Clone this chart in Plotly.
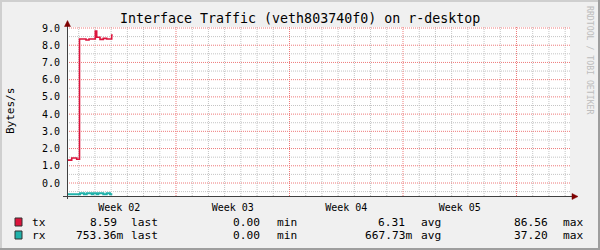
import plotly.graph_objects as go

# ---------------- data ----------------
title_text = "Interface Traffic (veth803740f0) on r-desktop"
y_label = "Bytes/s"
watermark = "RRDTOOL / TOBI OETIKER"

week_labels = ["Week 02", "Week 03", "Week 04", "Week 05"]
week_label_pos = [-3.5, 3.5, 10.5, 17.5]      # days relative to start of Week 03
week_starts = [0, 7, 14, 21]

y_ticks = [0, 1, 2, 3, 4, 5, 6, 7, 8, 9]
y_tick_text = ["0.0", "1.0", "2.0", "3.0", "4.0", "5.0", "6.0", "7.0", "8.0", "9.0"]

tx_day = [-6.7226, -6.4327, -6.1243, -5.9516, -5.5507, -5.3657, -4.9772,
          -4.8908, -4.6873, -4.4838, -4.2741, -3.9657, -3.9040]
tx_val = [1.33, 1.45, 1.38, 8.36, 8.30, 8.36, 8.83,
          8.46, 8.34, 8.40, 8.36, 8.59, 8.59]

rx_day = [-6.7226, -5.9208, -5.6741, -5.5076, -5.1992, -5.1005, -4.8908,
          -4.7922, -4.4838, -4.2741, -4.0706, -3.9287]
rx_val = [-0.656, -0.598, -0.656, -0.598, -0.656, -0.598, -0.656,
          -0.598, -0.656, -0.598, -0.656, -0.656]

series_names = ["tx", "rx"]
series_colors = ["#DC143C", "#20B2AA"]
legend_last = ["8.59", "753.36m"]
legend_min = ["0.00", "0.00"]
legend_avg = ["6.31", "667.73m"]
legend_max = ["86.56", "37.20"]
stat_names = ["last", "min", "avg", "max"]

# ---------------- layout geometry ----------------
W, H = 600, 250
PL, PR, PT, PB = 67, 570, 27, 196
X0, PXD = 176.0, 16.214      # pixel of day 0, pixels per day
Y0, PXU = 183.0, 17.222      # pixel of value 0, pixels per unit

x_range = [(PL - X0) / PXD, (PR - X0) / PXD]
y_range = [(Y0 - PB) / PXU, (Y0 - PT) / PXU]

# grid positions
x_minor = [d for d in range(-6, 25) if d % 7 != 0]
y_minor = [v + 0.5 for v in range(-1, 9)]


def fx(px):
    return (px - PL) / (PR - PL)


def fy(py):
    return (PB - py) / (PB - PT)


MONO = "DejaVu Sans Mono"
RED_GRID = "#EE7A7A"
GRAY_GRID = "#C4C4C4"
DOT = "1px,1px"

fig = go.Figure()
fig.add_trace(go.Scatter(x=tx_day, y=tx_val, mode="lines", hoverinfo="skip",
                         line=dict(color=series_colors[0], width=1.6, shape="hv")))
fig.add_trace(go.Scatter(x=rx_day, y=rx_val, mode="lines", hoverinfo="skip",
                         line=dict(color=series_colors[1], width=2, shape="hv")))
# invisible trace for the label axis
fig.add_trace(go.Scatter(x=[], y=[], xaxis="x2", hoverinfo="skip", showlegend=False))

shapes = []
# grid lines (drawn below the data)
for d in x_minor:
    shapes.append(dict(type="line", xref="x", yref="paper", x0=d, x1=d, y0=0, y1=1,
                       layer="below", line=dict(color=GRAY_GRID, width=1, dash=DOT)))
for v in y_minor:
    shapes.append(dict(type="line", xref="paper", yref="y", x0=0, x1=1, y0=v, y1=v,
                       layer="below", line=dict(color=GRAY_GRID, width=1, dash=DOT)))
for d in week_starts:
    shapes.append(dict(type="line", xref="x", yref="paper", x0=d, x1=d, y0=0, y1=1,
                       layer="below", line=dict(color=RED_GRID, width=1, dash=DOT)))
for v in y_ticks:
    shapes.append(dict(type="line", xref="paper", yref="y", x0=0, x1=1, y0=v, y1=v,
                       layer="below", line=dict(color=RED_GRID, width=1, dash=DOT)))

# frame shading
shapes += [
    dict(type="rect", xref="paper", yref="paper", x0=fx(0), x1=fx(W), y0=fy(0), y1=fy(2),
         fillcolor="#CFCFCF", line_width=0, layer="below"),
    dict(type="rect", xref="paper", yref="paper", x0=fx(0), x1=fx(2), y0=fy(0), y1=fy(H),
         fillcolor="#CFCFCF", line_width=0, layer="below"),
    dict(type="rect", xref="paper", yref="paper", x0=fx(0), x1=fx(W), y0=fy(H - 2), y1=fy(H),
         fillcolor="#9E9E9E", line_width=0, layer="below"),
    dict(type="rect", xref="paper", yref="paper", x0=fx(W - 2), x1=fx(W), y0=fy(0), y1=fy(H),
         fillcolor="#9E9E9E", line_width=0, layer="below"),
]
# axes lines
shapes += [
    dict(type="line", xref="paper", yref="paper", x0=fx(67.5), x1=fx(67.5), y0=fy(199), y1=fy(24),
         line=dict(color="#404040", width=1)),
    dict(type="line", xref="paper", yref="paper", x0=fx(63), x1=fx(574), y0=fy(196.5), y1=fy(196.5),
         line=dict(color="#404040", width=1)),
]
# arrows
shapes += [
    dict(type="path", xref="paper", yref="paper",
         path=f"M {fx(64.5)} {fy(26.5)} L {fx(70.5)} {fy(26.5)} L {fx(67.5)} {fy(20.5)} Z",
         fillcolor="#7F0000", line=dict(color="#7F0000", width=0.5)),
    dict(type="path", xref="paper", yref="paper",
         path=f"M {fx(572)} {fy(193.5)} L {fx(572)} {fy(199.5)} L {fx(578)} {fy(196.5)} Z",
         fillcolor="#7F0000", line=dict(color="#7F0000", width=0.5)),
]

annotations = []
annotations.append(dict(text=title_text, xref="paper", yref="paper", x=fx(300), y=fy(19),
                        xanchor="center", yanchor="middle", showarrow=False,
                        font=dict(family=MONO, size=13.3, color="#000")))
annotations.append(dict(text=y_label, xref="paper", yref="paper", x=fx(10), y=fy(111),
                        xanchor="center", yanchor="middle", showarrow=False, textangle=-90,
                        font=dict(family=MONO, size=11, color="#000")))
annotations.append(dict(text=watermark, xref="paper", yref="paper", x=fx(590), y=fy(60),
                        xanchor="center", yanchor="middle", showarrow=False, textangle=90,
                        font=dict(family=MONO, size=8.2, color="#BDBDBD")))

# legend
row_y = [222.5, 235.5]
val_right = [117.5, 261.0, 406.0, 549.0]
lab_left = [129.5, 275.5, 419.5, 561.5]
CW = 6.72
stats = [legend_last, legend_min, legend_avg, legend_max]
for i, name in enumerate(series_names):
    yc = row_y[i]
    shapes.append(dict(type="rect", xref="paper", yref="paper",
                       x0=fx(15), x1=fx(22), y0=fy(yc - 4.5), y1=fy(yc + 3.5),
                       fillcolor=series_colors[i], line=dict(color="#303030", width=1)))
    annotations.append(dict(text=name, xref="paper", yref="paper", x=fx(30.5), y=fy(yc),
                            xanchor="left", yanchor="middle", showarrow=False,
                            borderpad=0, font=dict(family=MONO, size=11.2, color="#000")))
    for j in range(4):
        v = stats[j][i]
        r = val_right[j] + (CW if v[-1].isalpha() else 0)
        annotations.append(dict(text=v, xref="paper", yref="paper", x=fx(r), y=fy(yc),
                                xanchor="right", yanchor="middle", showarrow=False,
                                borderpad=0, font=dict(family=MONO, size=11.2, color="#000")))
        annotations.append(dict(text=stat_names[j], xref="paper", yref="paper",
                                x=fx(lab_left[j]), y=fy(yc),
                                xanchor="left", yanchor="middle", showarrow=False,
                                borderpad=0, font=dict(family=MONO, size=11.2, color="#000")))

fig.update_layout(
    width=W, height=H, autosize=False,
    margin=dict(l=PL, r=W - PR, t=PT, b=H - PB, pad=0),
    paper_bgcolor="#F0F0F0", plot_bgcolor="#FFFFFF",
    showlegend=False,
    shapes=shapes, annotations=annotations,
    xaxis=dict(range=x_range, showticklabels=False, ticks="", showgrid=False,
               zeroline=False, showline=False, fixedrange=True),
    xaxis2=dict(range=x_range, overlaying="x", anchor="y", side="bottom",
                tickmode="array", tickvals=week_label_pos, ticktext=week_labels,
                showgrid=False, zeroline=False, showline=False,
                ticks="outside", ticklen=2, tickcolor="rgba(0,0,0,0)",
                tickfont=dict(family=MONO, size=10, color="#000"), fixedrange=True),
    yaxis=dict(range=y_range, tickmode="array", tickvals=y_ticks, ticktext=y_tick_text,
               showgrid=False, zeroline=False, showline=False,
               ticks="outside", ticklen=4, tickcolor="rgba(0,0,0,0)",
               tickfont=dict(family=MONO, size=10, color="#000"), fixedrange=True),
)

fig.write_html("out.html", config={"displayModeBar": False})
